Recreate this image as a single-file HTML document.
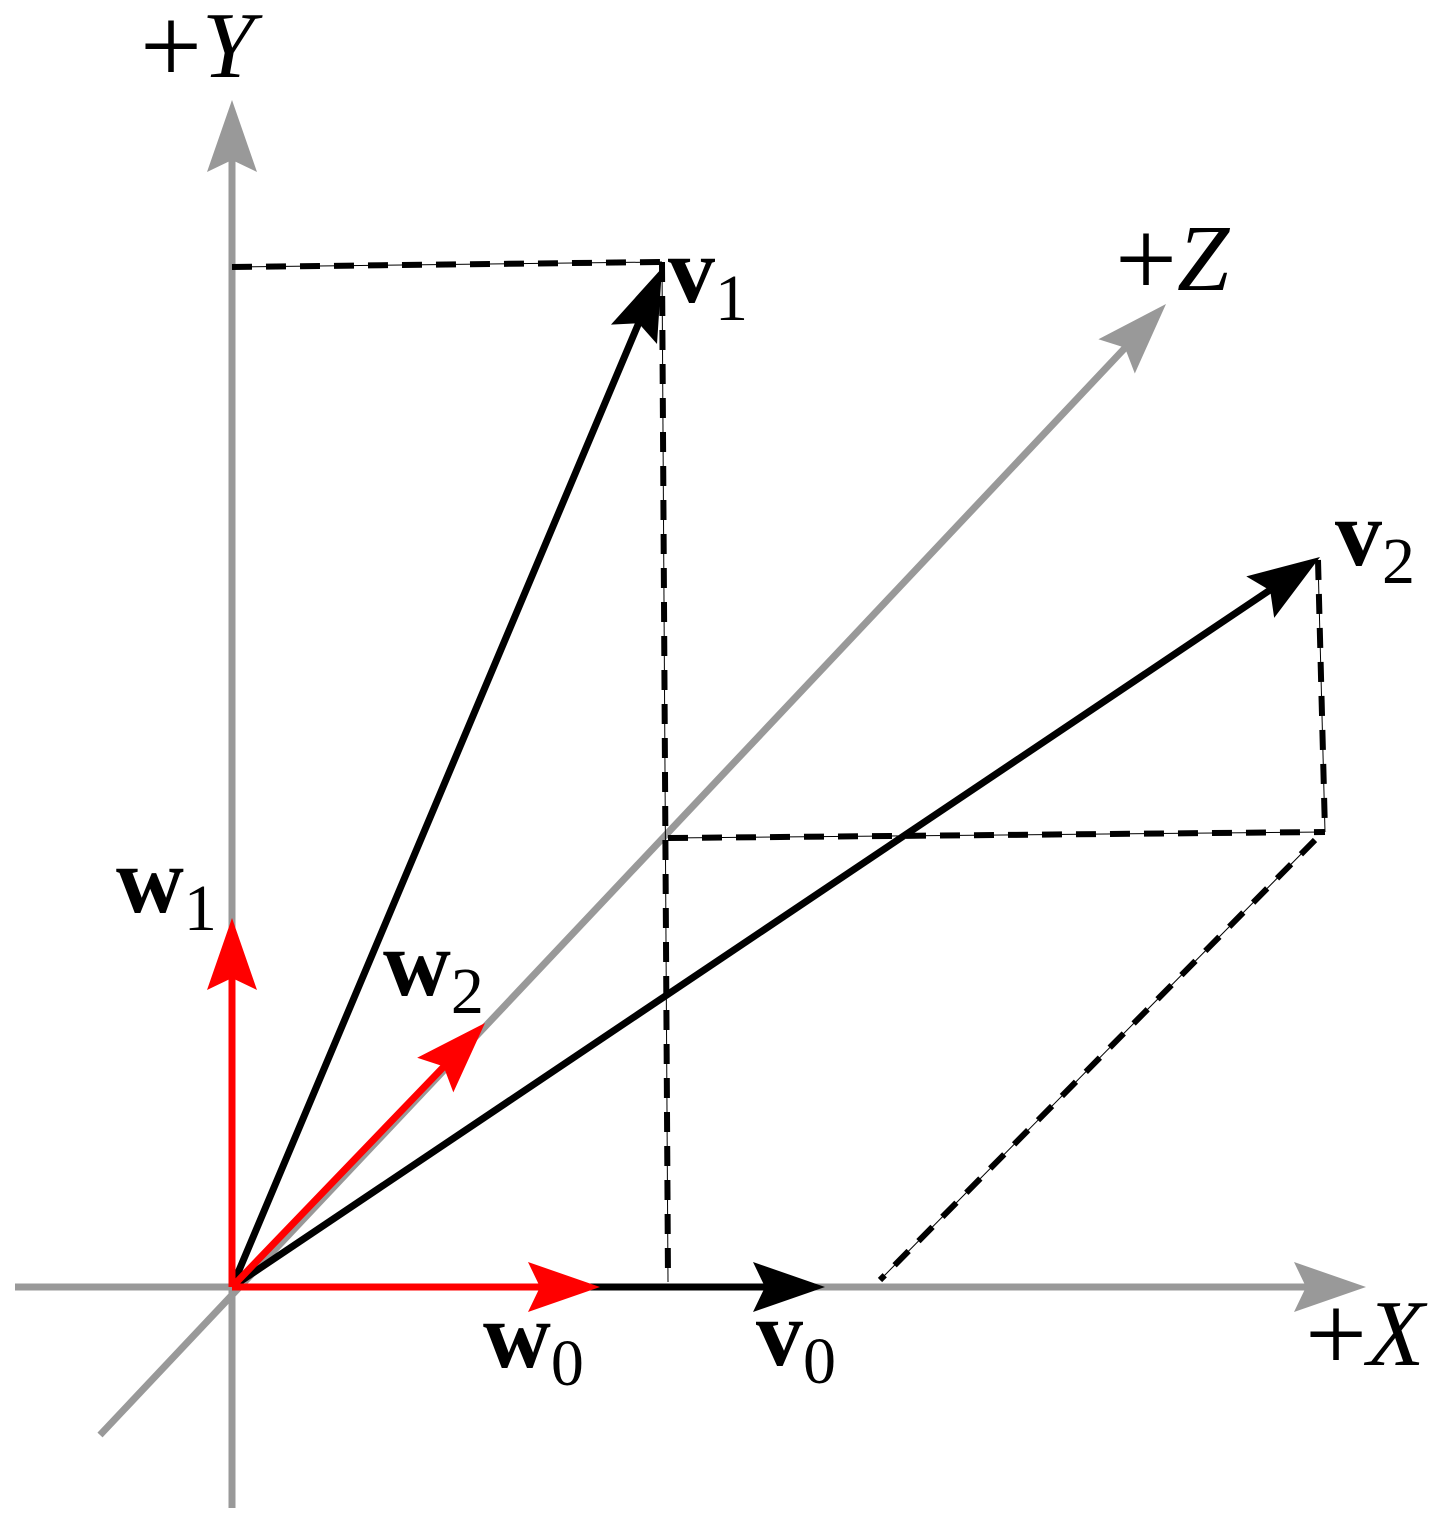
<!DOCTYPE html>
<html><head><meta charset="utf-8"><style>html,body{margin:0;padding:0;background:#fff}svg{display:block}</style></head>
<body>
<svg width="1451" height="1521" viewBox="0 0 1451 1521" xmlns="http://www.w3.org/2000/svg">
<defs>
<path id="ah" d="M0,0 L-72,-25 L-60,0 L-72,25 Z"/>
</defs>
<g stroke="#999" stroke-width="7" fill="none">
<line x1="232" y1="1508" x2="232" y2="130"/>
<line x1="15" y1="1287" x2="1330" y2="1287"/>
<line x1="100" y1="1435" x2="1140" y2="332"/>
</g>
<g fill="#999">
<use href="#ah" transform="translate(232,100) rotate(-90)"/>
<use href="#ah" transform="translate(1366,1287)"/>
<use href="#ah" transform="translate(1166,304) rotate(-46.7)"/>
</g>
<g stroke="#000" fill="none">
<g stroke-width="1">
<line x1="232" y1="267" x2="662" y2="262"/>
<line x1="662" y1="262" x2="668" y2="1282"/>
<line x1="668" y1="838" x2="1325" y2="832"/>
<line x1="1318" y1="560" x2="1325" y2="832"/>
<line x1="1315" y1="840" x2="880" y2="1280"/>
</g>
<g stroke-width="6" stroke-dasharray="20 14">
<line x1="232" y1="267" x2="662" y2="262"/>
<line x1="662" y1="262" x2="668" y2="1282"/>
<line x1="668" y1="838" x2="1325" y2="832"/>
<line x1="1318" y1="560" x2="1325" y2="832"/>
<line x1="1315" y1="840" x2="880" y2="1280"/>
</g>
</g>
<g stroke="#000" stroke-width="7" fill="none">
<line x1="232" y1="1287" x2="640" y2="320"/>
<line x1="232" y1="1287" x2="1270" y2="590"/>
<line x1="590" y1="1287" x2="780" y2="1287"/>
</g>
<g fill="#000">
<use href="#ah" transform="translate(662,268) rotate(-67.1)"/>
<use href="#ah" transform="translate(1320,557) rotate(-33.9)"/>
<use href="#ah" transform="translate(825,1287)"/>
</g>
<g stroke="#f00" stroke-width="7" fill="none">
<line x1="232" y1="1287" x2="560" y2="1287"/>
<line x1="232" y1="1287" x2="232" y2="960"/>
<line x1="232" y1="1287" x2="455" y2="1055"/>
</g>
<g fill="#f00">
<use href="#ah" transform="translate(600,1287)"/>
<use href="#ah" transform="translate(232,918) rotate(-90)"/>
<use href="#ah" transform="translate(485,1023) rotate(-46.3)"/>
</g>
<g font-family="'Liberation Serif', serif" fill="#000">
<text x="140" y="77" font-size="94"><tspan font-size="110" dy="6">+</tspan><tspan font-style="italic" dy="-6">Y</tspan></text>
<text x="1115" y="290" font-size="94"><tspan font-size="110" dy="6">+</tspan><tspan font-style="italic" dy="-6">Z</tspan></text>
<text x="1305" y="1365" font-size="94"><tspan font-size="110" dy="6">+</tspan><tspan font-style="italic" dy="-6">X</tspan></text>
<text x="668" y="302" font-size="94" font-weight="bold">v<tspan font-size="66" font-weight="normal" dy="18">1</tspan></text>
<text x="1335" y="565" font-size="94" font-weight="bold">v<tspan font-size="66" font-weight="normal" dy="18">2</tspan></text>
<text x="116" y="912" font-size="94" font-weight="bold">w<tspan font-size="66" font-weight="normal" dy="18">1</tspan></text>
<text x="383" y="995" font-size="94" font-weight="bold">w<tspan font-size="66" font-weight="normal" dy="18">2</tspan></text>
<text x="483" y="1367" font-size="94" font-weight="bold">w<tspan font-size="66" font-weight="normal" dy="18">0</tspan></text>
<text x="756" y="1365" font-size="94" font-weight="bold">v<tspan font-size="66" font-weight="normal" dy="18">0</tspan></text>
</g>
</svg>
</body></html>
